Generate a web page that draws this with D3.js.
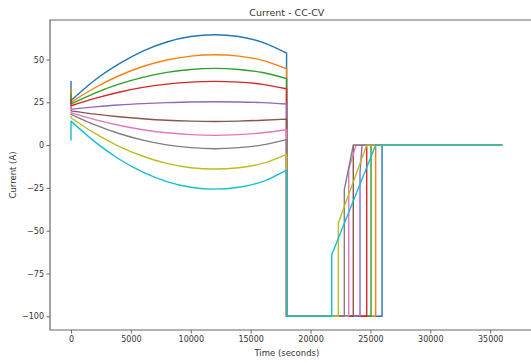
<!DOCTYPE html>
<html>
<head>
<meta charset="utf-8">
<script src="https://cdn.jsdelivr.net/npm/d3@7"></script>
<style>
  body { margin: 0; background: #fff; }
  svg { display: block; font-family: 'DejaVu Sans', sans-serif; }
</style>
</head>
<body>
<svg id="chart" width="531" height="363"></svg>
<script>
// charge phase sample times (seconds)
const chargeTimes = [0, 2000, 4000, 6000, 8000, 10000, 12000, 14000, 16000, 18000];

// one colour per run (matplotlib default cycle)
const runColors = ['#1f77b4', '#ff7f0e', '#2ca02c', '#d62728', '#9467bd',
                   '#8c564b', '#e377c2', '#7f7f7f', '#bcbd22', '#17becf'];

// value of the first sample at t=0 (the little spike)
const spikeValues = [37.5, 33, 30, 27, 23, 20.5, 19.5, 18.5, 17, 2.7];

// charge curves at chargeTimes
const chargeCurves = [
  [26, 38, 47.4, 54.9, 60.2, 63.4, 64.5, 63.4, 60, 53.7],
  [25, 33.5, 40.5, 45.9, 49.7, 52, 52.8, 52, 49.5, 44.6],
  [24, 30.4, 35.6, 39.6, 42.5, 44.2, 44.8, 44.2, 42.4, 38.8],
  [23, 27.3, 30.9, 33.7, 35.6, 36.8, 37.2, 36.8, 35.5, 32.9],
  [21, 22.3, 23.4, 24.2, 24.8, 25.2, 25.3, 25.2, 24.8, 24],
  [20, 18.1, 16.6, 15.4, 14.5, 14, 13.8, 14, 14.5, 15.2],
  [19, 14.9, 11.6, 9, 7.2, 6.1, 5.7, 6.1, 7.2, 9],
  [18, 11.8, 6.8, 2.9, 0.1, -1.5, -2.1, -1.5, 0.1, 3.2],
  [16, 6.8, -0.7, -6.5, -10.7, -13.2, -14, -13.2, -10.7, -5.4],
  [14, 1.9, -8.1, -15.8, -21.3, -24.6, -25.7, -24.6, -21.3, -14.6]
];

// discharge at -100 A, then step up (knee) and ramp to 0
const dischargeCurrent = -100;
const dischargeStart = 18000;
const kneeTimes  = [25970, 25440, 25050, 24690, 24130, 23570, 23190, 22820, 22320, 21770];
const kneeValues = [0, 0, 0, 0, -16, 0, -14, -26, -45.5, -64];
const zeroTimes  = [25970, 25440, 25050, 24690, 24300, 23570, 23800, 23570, 24690, 25440];
const endTime = 36000;

const xTicks = [0, 5000, 10000, 15000, 20000, 25000, 30000, 35000];
const yTicks = [-100, -75, -50, -25, 0, 25, 50];

const svg = d3.select('#chart');
const width = 531, height = 363;

// plot box (right edge is cut off in the original)
const box = { left: 50, top: 20, right: 523.7, bottom: 330 };

const x = d3.scaleLinear().domain([0, 35000]).range([71, 490.2]);
const y = d3.scaleLinear().domain([-100, 50]).range([316.3, 59.5]);

// build each run's points
const runs = chargeCurves.map((curve, i) => {
  const pts = [[0, spikeValues[i]]];
  chargeTimes.forEach((t, j) => pts.push([t, curve[j]]));
  pts.push([dischargeStart, dischargeCurrent]);
  pts.push([kneeTimes[i], dischargeCurrent]);
  pts.push([kneeTimes[i], kneeValues[i]]);
  pts.push([zeroTimes[i], 0]);
  pts.push([endTime, 0]);
  return pts;
});

// smooth curve for the charge part only, straight segments after
const runPath = pts => {
  const charge = pts.slice(1, chargeTimes.length + 1);
  const smooth = d3.line().x(d => x(d[0])).y(d => y(d[1])).curve(d3.curveMonotoneX)(charge);
  const head = `M${x(pts[0][0])},${y(pts[0][1])}L${x(charge[0][0])},${y(charge[0][1])}`;
  const tail = pts.slice(chargeTimes.length + 1).map(p => `L${x(p[0])},${y(p[1])}`).join('');
  return head + smooth.replace(/^M[^CL]*/, '') + tail;
};

svg.append('g')
  .selectAll('path.run')
  .data(runs)
  .enter().append('path')
    .attr('class', 'run')
    .attr('d', d => runPath(d))
    .attr('fill', 'none')
    .attr('stroke', (d, i) => runColors[i])
    .attr('stroke-width', 1.4)
    .attr('stroke-linejoin', 'round');

// x axis
const xAxis = svg.append('g')
  .attr('transform', `translate(0,${box.bottom})`)
  .call(d3.axisBottom(x).tickValues(xTicks).tickSizeOuter(0).tickSize(3.5).tickPadding(2.5).tickFormat(d3.format('d')));
xAxis.select('.domain').remove();
xAxis.selectAll('line').attr('stroke', '#444').attr('stroke-width', 0.8);
xAxis.selectAll('text').attr('font-size', '8px').attr('fill', '#333').attr('font-family', 'DejaVu Sans, sans-serif');

// y axis
const yAxis = svg.append('g')
  .attr('transform', `translate(${box.left},0)`)
  .call(d3.axisLeft(y).tickValues(yTicks).tickSizeOuter(0).tickSize(3.5).tickPadding(2.5));
yAxis.select('.domain').remove();
yAxis.selectAll('line').attr('stroke', '#444').attr('stroke-width', 0.8);
yAxis.selectAll('text').attr('font-size', '8px').attr('fill', '#333').attr('font-family', 'DejaVu Sans, sans-serif');

// spines: left, top, bottom (right one is outside the picture)
svg.append('path')
  .attr('d', `M${width},${box.top}H${box.left}V${box.bottom}H${width}`)
  .attr('fill', 'none')
  .attr('stroke', '#666')
  .attr('stroke-width', 1.2);

const midX = (box.left + box.right) / 2;

// title
svg.append('text')
  .attr('x', midX)
  .attr('y', 16)
  .attr('text-anchor', 'middle')
  .attr('font-size', '9.5px')
  .attr('fill', '#333')
  .text('Current - CC-CV');

// axis labels
svg.append('text')
  .attr('x', midX)
  .attr('y', 356)
  .attr('text-anchor', 'middle')
  .attr('font-size', '8.5px')
  .attr('fill', '#333')
  .text('Time (seconds)');

svg.append('text')
  .attr('transform', `translate(16,${(box.top + box.bottom) / 2}) rotate(-90)`)
  .attr('text-anchor', 'middle')
  .attr('font-size', '8.5px')
  .attr('fill', '#333')
  .text('Current (A)');
</script>
</body>
</html>
